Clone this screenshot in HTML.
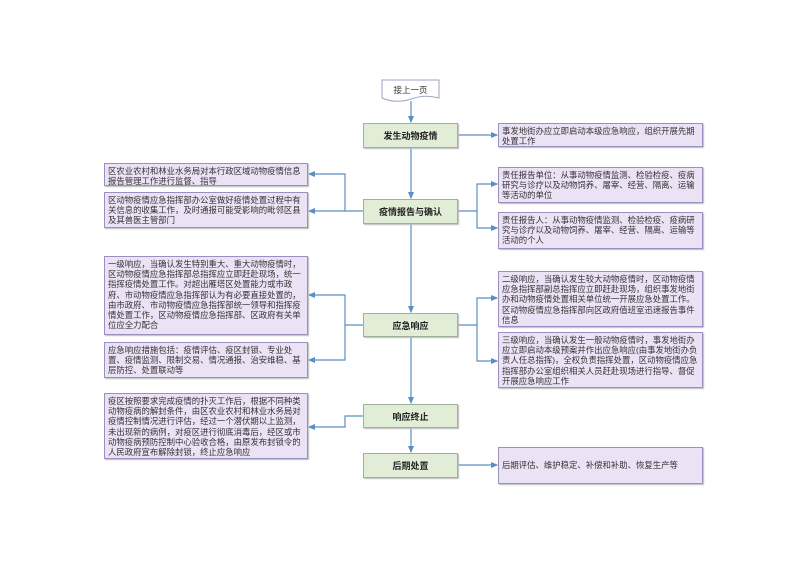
<!DOCTYPE html>
<html><head><meta charset="utf-8"><style>
body{margin:0;width:800px;height:566px;background:#fff;position:relative;overflow:hidden;font-family:"Liberation Sans","Noto Sans CJK SC",sans-serif}
.b{position:absolute;box-sizing:border-box;background:#ebe3f5;border:1px solid #9a8fbf;box-shadow:1px 1px 1px #bbb;font-size:8.4px;line-height:10.2px;color:#333;padding:2px 3px;overflow:hidden;word-break:break-all}
.c{position:absolute;box-sizing:border-box;background:#e2edd8;border:1px solid #9fb19a;box-shadow:1px 1px 1px #bbb;font-size:9px;font-weight:bold;color:#222;display:flex;align-items:center;justify-content:center;left:363px;width:95px}
svg{position:absolute;left:0;top:0}
</style></head><body>
<svg width="800" height="566">
<defs><marker id="a" markerWidth="6" markerHeight="6" refX="5" refY="3" orient="auto"><path d="M0,0.5 L6,3 L0,5.5z" fill="#5b8fc4"/></marker></defs>
<path d="M382,80 H439 V98 Q425,94 411,99 Q396,104 382,98 Z" fill="#fff" stroke="#9aa7bf"/>
<text x="410.5" y="93" font-size="8.5" text-anchor="middle" fill="#333" font-family="Liberation Sans,Noto Sans CJK SC,sans-serif">接上一页</text>
<g stroke="#5b8fc4" stroke-width="1.2" fill="none">
<path d="M411,101 V122" marker-end="url(#a)"/>
<path d="M411,148 V198" marker-end="url(#a)"/>
<path d="M411,224 V312" marker-end="url(#a)"/>
<path d="M411,337 V403" marker-end="url(#a)"/>
<path d="M411,428 V452" marker-end="url(#a)"/>
<path d="M458,135 H497" marker-end="url(#a)"/>
<path d="M458,211 H477 V184 H497" marker-end="url(#a)"/>
<path d="M477,211 V228 H497" marker-end="url(#a)"/>
<path d="M363,211 H345 V174 H309" marker-end="url(#a)"/>
<path d="M345,211 H309" marker-end="url(#a)"/>
<path d="M363,325 H345 V295 H309" marker-end="url(#a)"/>
<path d="M345,325 V360 H309" marker-end="url(#a)"/>
<path d="M458,325 H477 V298 H497" marker-end="url(#a)"/>
<path d="M477,325 V361 H497" marker-end="url(#a)"/>
<path d="M363,416 H345 V427 H309" marker-end="url(#a)"/>
<path d="M458,465 H497" marker-end="url(#a)"/>
</g>
</svg>
<div class="c" style="top:123px;height:25px">发生动物疫情</div>
<div class="c" style="top:199px;height:25px">疫情报告与确认</div>
<div class="c" style="top:313px;height:24px">应急响应</div>
<div class="c" style="top:404px;height:24px">响应终止</div>
<div class="c" style="top:453px;height:25px">后期处置</div>

<div class="b" style="left:104px;top:163px;width:204px;height:23px">区农业农村和林业水务局对本行政区域动物疫情信息报告管理工作进行监督、指导</div>
<div class="b" style="left:104px;top:192px;width:204px;height:36px">区动物疫情应急指挥部办公室做好疫情处置过程中有关信息的收集工作，及时通报可能受影响的毗邻区县及其兽医主管部门</div>
<div class="b" style="left:104px;top:256px;width:204px;height:79px">一级响应，当确认发生特别重大、重大动物疫情时，区动物疫情应急指挥部总指挥应立即赶赴现场，统一指挥疫情处置工作。对超出雁塔区处置能力或市政府、市动物疫情应急指挥部认为有必要直接处置的，由市政府、市动物疫情应急指挥部统一领导和指挥疫情处置工作，区动物疫情应急指挥部、区政府有关单位应全力配合</div>
<div class="b" style="left:104px;top:342px;width:204px;height:36px">应急响应措施包括：疫情评估、疫区封锁、专业处置、疫情监测、限制交易、情况通报、治安维稳、基层防控、处置联动等</div>
<div class="b" style="left:104px;top:393px;width:204px;height:66px">疫区按照要求完成疫情的扑灭工作后，根据不同种类动物疫病的解封条件，由区农业农村和林业水务局对疫情控制情况进行评估，经过一个潜伏期以上监测，未出现新的病例，对疫区进行彻底消毒后，经区或市动物疫病预防控制中心验收合格，由原发布封锁令的人民政府宣布解除封锁，终止应急响应</div>

<div class="b" style="left:498px;top:123px;width:205px;height:24px">事发地街办应立即启动本级应急响应，组织开展先期处置工作</div>
<div class="b" style="left:498px;top:167px;width:205px;height:36px">责任报告单位：从事动物疫情监测、检验检疫、疫病研究与诊疗以及动物饲养、屠宰、经营、隔离、运输等活动的单位</div>
<div class="b" style="left:498px;top:212px;width:205px;height:37px">责任报告人：从事动物疫情监测、检验检疫、疫病研究与诊疗以及动物饲养、屠宰、经营、隔离、运输等活动的个人</div>
<div class="b" style="left:498px;top:271px;width:205px;height:56px">二级响应，当确认发生较大动物疫情时，区动物疫情应急指挥部副总指挥应立即赶赴现场，组织事发地街办和动物疫情处置相关单位统一开展应急处置工作。区动物疫情应急指挥部向区政府值班室迅速报告事件信息</div>
<div class="b" style="left:498px;top:332px;width:205px;height:56px">三级响应，当确认发生一般动物疫情时，事发地街办应立即启动本级预案并作出应急响应(由事发地街办负责人任总指挥)，全权负责指挥处置，区动物疫情应急指挥部办公室组织相关人员赶赴现场进行指导、督促开展应急响应工作</div>
<div class="b" style="left:498px;top:447px;width:205px;height:37px;padding-top:12px">后期评估、维护稳定、补偿和补助、恢复生产等</div>
</body></html>
